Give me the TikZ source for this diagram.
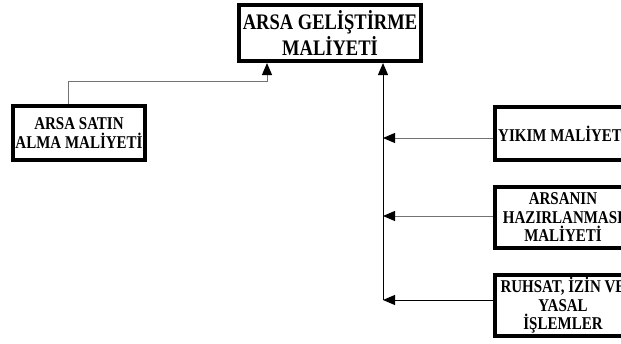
\documentclass[tikz,border=0pt]{standalone}
\usepackage{fontspec}
\usepackage{graphicx}
\setmainfont{Liberation Serif}
\usetikzlibrary{arrows.meta}
\newcommand\tallline[1]{\scalebox{1}[1.2]{#1}}
\begin{document}
\begin{tikzpicture}[x=1pt,y=-1pt,
  box/.style={draw,line width=4pt,inner sep=0pt,align=center},
  bigtext/.style={font=\bfseries\fontsize{18.5}{26}\selectfont},
  smalltext/.style={font=\bfseries\fontsize{15}{18.5}\selectfont},
  conn/.style={line width=1pt,-{Triangle[length=12pt,width=10pt,color=black]}},
  grayconn/.style={conn,draw=black!55}]
\useasboundingbox (0,0) rectangle (621,343);
\clip (0,0) rectangle (621,343);
\node[box,bigtext,minimum width=182pt,minimum height=56pt] (top) at (330,33) {\tallline{ARSA GELİŞTİRME}\\\tallline{MALİYETİ}};
\node[box,smalltext,minimum width=132pt,minimum height=54pt] (la) at (79,133) {\tallline{ARSA SATIN}\\\tallline{ALMA MALİYETİ}};
\node[box,smalltext,minimum width=136pt,minimum height=53pt] (b1) at (563,133.5) {\tallline{YIKIM MALİYETİ}};
\node[box,smalltext,minimum width=136pt,minimum height=61pt] (b2) at (563,217.5) {\tallline{ARSANIN}\\\tallline{HAZIRLANMASI}\\\tallline{MALİYETİ}};
\node[box,smalltext,minimum width=136pt,minimum height=61pt] (b3) at (563,305.5) {\tallline{RUHSAT, İZİN VE}\\\tallline{YASAL}\\\tallline{İŞLEMLER}};
\coordinate (spinebot) at (383,300);
\draw[grayconn] ([xshift=-11pt]la.north) -- ++(0,-23) -| ([xshift=-63pt]top.south);
\draw[conn] (spinebot) -- ([xshift=53pt]top.south);
\draw[grayconn] ([yshift=-4.5pt]b1.west) -- ([yshift=-4.5pt]b1.west -| spinebot);
\draw[grayconn] ([yshift=1.5pt]b2.west) -- ([yshift=1.5pt]b2.west -| spinebot);
\draw[conn] ([yshift=5.5pt]b3.west) -- ([yshift=5.5pt]b3.west -| spinebot);
\end{tikzpicture}
\end{document}
